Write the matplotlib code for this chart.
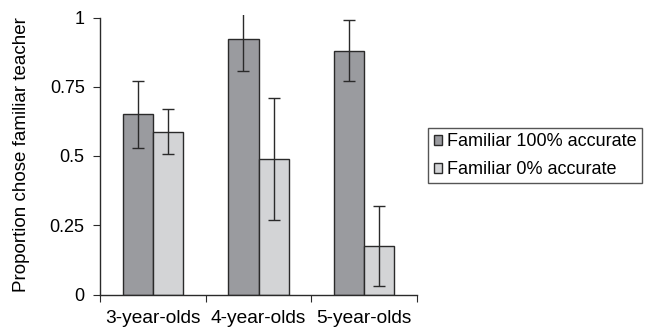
import numpy as np
import matplotlib.pyplot as plt

plt.rcParams['font.family'] = ['Liberation Sans', 'DejaVu Sans']

# Data
groups = ['3-year-olds', '4-year-olds', '5-year-olds']
acc100 = [0.65, 0.922, 0.88]
acc100_lo = [0.528, 0.806, 0.77]
acc100_hi = [0.772, 1.04, 0.99]
acc0 = [0.588, 0.489, 0.175]
acc0_lo = [0.507, 0.269, 0.03]
acc0_hi = [0.67, 0.71, 0.32]

dark = '#9a9b9f'
light = '#d3d4d6'
edge = '#2a2a2a'
fs = 13

fig = plt.figure(figsize=(6.47, 3.27), dpi=100)
# y=0 at 294.5px, y=1 at 17.5px; axes top cut at 15px
top = 1 + 2.5 / 277
ax = fig.add_axes([100 / 647, 1 - 294.5 / 327, 317 / 647, 279.5 / 327])

x = np.arange(len(groups)) + 0.5
w = 0.285

err100 = [np.array(acc100) - np.array(acc100_lo), np.array(acc100_hi) - np.array(acc100)]
err0 = [np.array(acc0) - np.array(acc0_lo), np.array(acc0_hi) - np.array(acc0)]

ax.bar(x - w / 2, acc100, w, color=dark, edgecolor=edge, linewidth=1.0,
       label='Familiar 100% accurate', zorder=2)
ax.bar(x + w / 2, acc0, w, color=light, edgecolor=edge, linewidth=1.0,
       label='Familiar 0% accurate', zorder=2)
ax.errorbar(x - w / 2, acc100, yerr=err100, fmt='none', ecolor=edge,
            elinewidth=1.0, capsize=4, capthick=1.0, zorder=3)
ax.errorbar(x + w / 2, acc0, yerr=err0, fmt='none', ecolor=edge,
            elinewidth=1.0, capsize=4, capthick=1.0, zorder=3)

ax.set_xlim(0, 3)
ax.set_ylim(0, top)
ax.set_xticks([0, 1, 2, 3])
ax.set_xticklabels([])
ax.set_xticks(x, minor=True)
ax.set_xticklabels(groups, minor=True)
ax.tick_params(axis='x', which='minor', length=0, pad=11, labelsize=13.8)
ax.tick_params(axis='x', which='major', length=5, direction='out', color=edge)
ax.set_yticks([0, 0.25, 0.5, 0.75, 1])
ax.set_yticklabels(['0', '0.25', '0.5', '0.75', '1'])
ax.tick_params(axis='y', length=5, direction='out', color=edge, labelsize=fs, pad=6)

for s in ['top', 'right']:
    ax.spines[s].set_visible(False)
for s in ['left', 'bottom']:
    ax.spines[s].set_color(edge)
    ax.spines[s].set_linewidth(1.0)
ax.spines['left'].set_bounds(0, 1)

ax.set_ylabel('Proportion chose familiar teacher', fontsize=13.5, labelpad=14)

leg = ax.legend(loc='center left', bbox_to_anchor=(1.035, 0.497), fontsize=fs,
                frameon=True, fancybox=False, edgecolor=edge, handlelength=0.47,
                handleheight=0.47, handletextpad=0.3, borderpad=0.3,
                labelspacing=0.6, borderaxespad=0)
leg.get_frame().set_linewidth(1.0)

fig.savefig('out.png', dpi=100)
